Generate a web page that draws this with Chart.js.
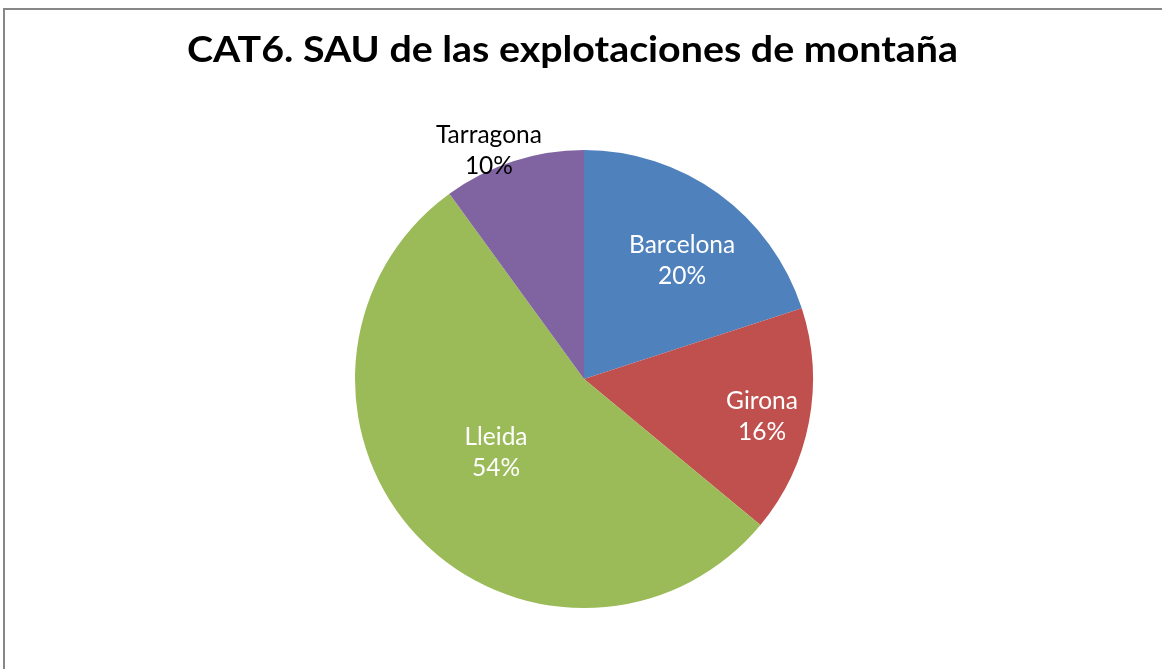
<!DOCTYPE html>
<html>
<head>
<meta charset="utf-8">
<script src="https://cdn.jsdelivr.net/npm/chart.js@4/dist/chart.umd.min.js"></script>
<style>
  html, body { margin: 0; padding: 0; background: #fff; overflow: hidden; }
  #wrap { position: relative; width: 1162px; height: 669px; }
  #frame { position: absolute; left: 3px; top: 8px; right: -10px; bottom: -10px;
           border-left: 2px solid #878787; border-top: 2px solid #878787; }
  #c { position: absolute; left: 0; top: 0; }
</style>
</head>
<body>
<div id="wrap">
  <div id="frame"></div>
  <canvas id="c" width="1162" height="669"></canvas>
</div>
<script>
// Mountain farms: utilised agricultural area share by province
const chartTitle = 'CAT6. SAU de las explotaciones de montaña';
const provinces = ['Barcelona', 'Girona', 'Lleida', 'Tarragona'];
const shares = [20, 16, 54, 10];
const sliceColors = ['#4F81BD', '#C0504D', '#9BBB59', '#8064A2'];

// label placement along each slice: fraction of radius, angular nudge (deg), colour
const labelRadius = [0.675, 0.793, 0.498, 1.085];
const labelNudge = [3.4, 0.6, 3.7, -4.5];
const labelColor = ['#ffffff', '#ffffff', '#ffffff', '#000000'];

const FONT = 'Lato, "Open Sans", "DejaVu Sans", sans-serif';
const TITLE_WIDTH = 771;

const titlePlugin = {
  id: 'headline',
  afterDraw(chart) {
    const ctx = chart.ctx;
    ctx.save();
    ctx.fillStyle = '#000';
    ctx.font = 'bold 36px ' + FONT;
    ctx.textAlign = 'center';
    ctx.textBaseline = 'alphabetic';
    const w = ctx.measureText(chartTitle).width;
    const sx = TITLE_WIDTH / w;
    ctx.translate(572.5, 62);
    ctx.scale(sx, 1);
    ctx.fillText(chartTitle, 0, 0);
    ctx.restore();
  }
};

const sliceLabels = {
  id: 'sliceLabels',
  afterDatasetsDraw(chart) {
    const ctx = chart.ctx;
    const meta = chart.getDatasetMeta(0);
    const total = shares.reduce((a, b) => a + b, 0);
    ctx.save();
    ctx.font = '24.5px ' + FONT;
    ctx.textAlign = 'center';
    ctx.textBaseline = 'middle';
    meta.data.forEach((arc, i) => {
      const p = arc.getProps(['x', 'y', 'startAngle', 'endAngle', 'outerRadius'], true);
      const mid = (p.startAngle + p.endAngle) / 2 + labelNudge[i] * Math.PI / 180;
      const r = p.outerRadius * labelRadius[i];
      const x = p.x + Math.cos(mid) * r;
      const y = p.y + Math.sin(mid) * r + 1.5;
      const pct = Math.round(shares[i] / total * 100) + '%';
      ctx.fillStyle = labelColor[i];
      ctx.fillText(provinces[i], x, y - 15.5);
      ctx.fillText(pct, x, y + 15.5);
    });
    ctx.restore();
  }
};

new Chart(document.getElementById('c'), {
  type: 'pie',
  data: {
    labels: provinces,
    datasets: [{
      data: shares,
      backgroundColor: sliceColors,
      borderWidth: 0
    }]
  },
  options: {
    responsive: false,
    animation: false,
    layout: { padding: { left: 355, right: 349, top: 150, bottom: 61 } },
    plugins: {
      legend: { display: false },
      title: { display: false },
      tooltip: { enabled: false }
    }
  },
  plugins: [titlePlugin, sliceLabels]
});
</script>
</body>
</html>
